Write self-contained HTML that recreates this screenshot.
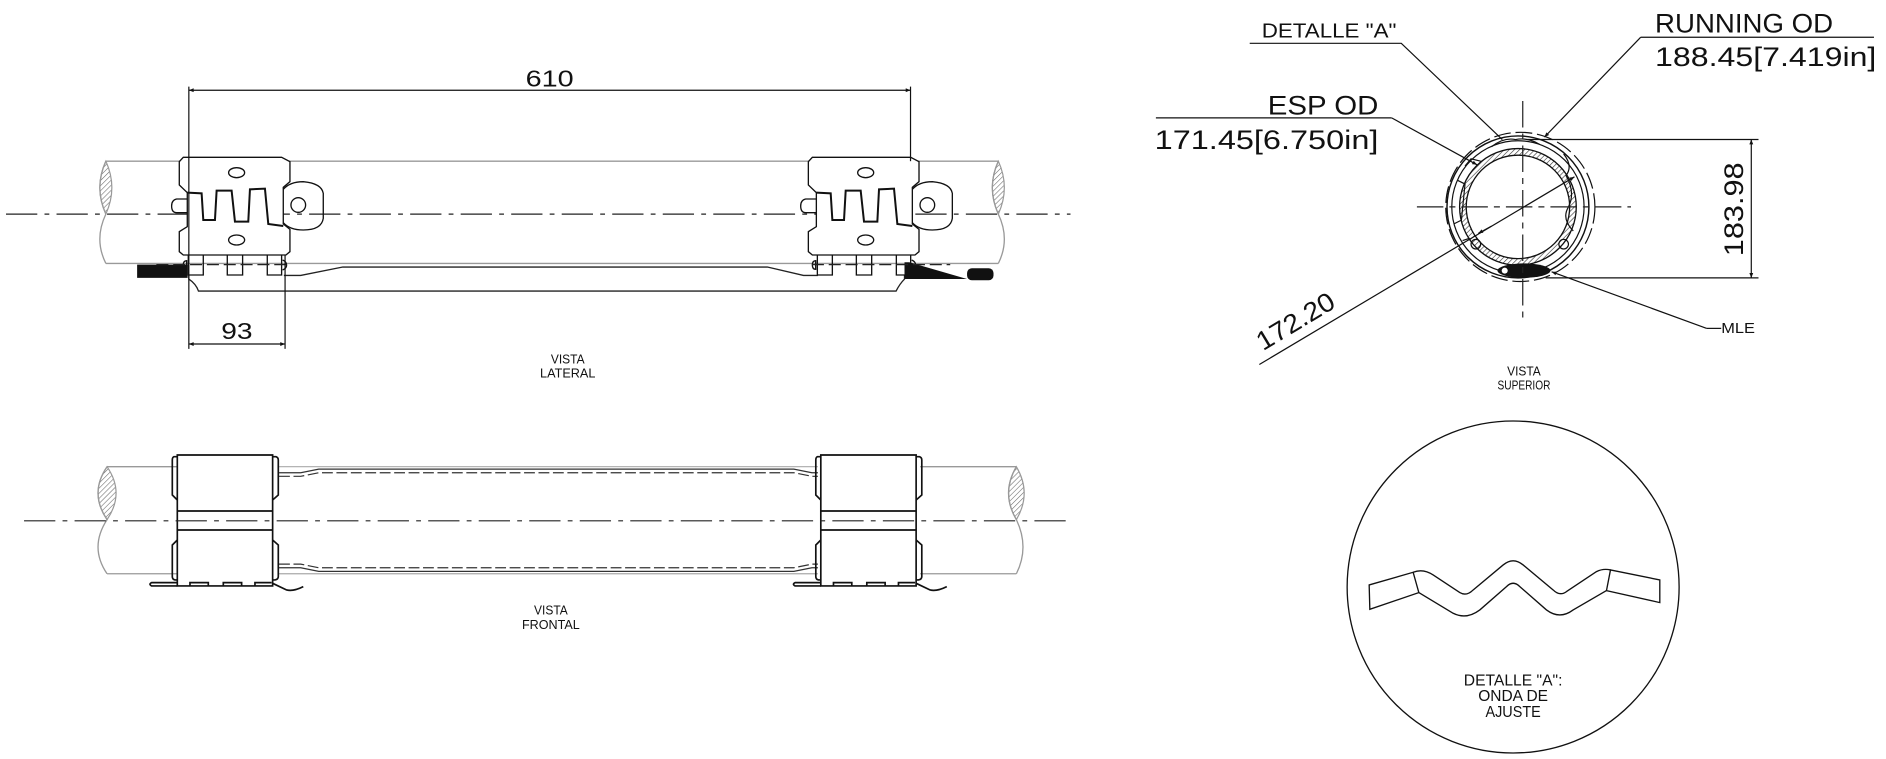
<!DOCTYPE html>
<html><head><meta charset="utf-8"><style>
html,body{margin:0;padding:0;background:#fff;}
svg{display:block;}
text{font-family:"Liberation Sans",sans-serif;fill:#111;}
</style></head><body>
<svg width="1886" height="759" viewBox="0 0 1568 631" preserveAspectRatio="none" xmlns="http://www.w3.org/2000/svg">
<defs>
<pattern id="hat" patternUnits="userSpaceOnUse" width="3" height="3" patternTransform="rotate(45)">
<line x1="0" y1="0" x2="0" y2="3" stroke="#666" stroke-width="0.9"/>
</pattern>
<pattern id="hat2" patternUnits="userSpaceOnUse" width="3" height="3" patternTransform="rotate(45)">
<line x1="0" y1="0" x2="0" y2="3" stroke="#333" stroke-width="1"/>
</pattern>
<marker id="ar" viewBox="0 0 10 10" refX="10" refY="5" markerWidth="10" markerHeight="4" orient="auto-start-reverse" markerUnits="userSpaceOnUse">
<path d="M0,1 L10,5 L0,9 Z" fill="#111"/>
</marker>
<g id="lclamp" fill="none" stroke="#111" stroke-width="4">
<path d="M40,22 L335,22 L360,35 L360,95 L340,112 L340,222 L360,238 L360,305 L348,315 L40,315 L28,305 L28,245 L52,230 L52,128 L28,105 L28,35 Z" fill="#fff"/>
<ellipse cx="200" cy="68" rx="24" ry="15"/>
<ellipse cx="200" cy="270" rx="24" ry="15"/>
<path d="M52,128 L95,130 L100,210 L135,210 L140,122 L185,122 L195,215 L235,215 L240,118 L285,116 L295,222 L340,228" stroke-width="6"/>
<path d="M52,147 L20,147 Q5,150 5,168 Q5,188 20,188 L52,188"/>
<path d="M340,118 Q360,95 400,95 Q455,100 460,130 L460,205 Q455,240 400,240 Q360,240 340,218"/>
<circle cx="385" cy="165" r="22"/>
<path d="M55,315 L55,375 L100,375 L100,315 M172,315 L172,375 L218,375 L218,315 M292,315 L292,375 L335,375 L335,315"/>
<path d="M40,345 Q40,332 50,332 L50,358 Q40,358 40,345" />
<path d="M338,330 Q350,335 350,345 Q350,355 338,360"/>
</g>
</defs>

<g fill="none" stroke="#999" stroke-width="1.1">
<line x1="88" y1="134" x2="830" y2="134"/>
<line x1="88" y1="219" x2="830" y2="219"/>
<path d="M88,134 Q78,156 88,178 Q78,199 88,219"/>
<path d="M830,134 Q820,156 830,178 Q840,199 830,219"/>
</g>
<path d="M88,134 Q78,156 88,178 Q98,156 88,134 Z" fill="url(#hat)" stroke="#999"/>
<path d="M830,134 Q820,156 830,178 Q840,156 830,134 Z" fill="url(#hat)" stroke="#999"/>
<line x1="5" y1="178" x2="890" y2="178" stroke="#222" stroke-width="1" stroke-dasharray="26,6,4,6"/>
<g fill="none" stroke="#222" stroke-width="1.1">
<path d="M157,229 L157,232 Q163,236 165,242 L745,242 Q748,236 752,232 L752,229"/>
<path d="M236,229 L250,229 L285,222 L638,222 L668,229 L680,229"/>
</g>
<use href="#lclamp" transform="translate(141.3,124.7) scale(0.2771)"/>
<use href="#lclamp" transform="translate(664.3,124.7) scale(0.2771)"/>
<rect x="114" y="220" width="42" height="11" fill="#111"/>
<path d="M752,218 L756,218 L804,232 L752,232 Z" fill="#111"/>
<rect x="804" y="223" width="22" height="10" rx="4" fill="#111"/>
<line x1="130" y1="220" x2="240" y2="220" stroke="#222" stroke-dasharray="10,4"/>
<line x1="675" y1="220" x2="790" y2="220" stroke="#222" stroke-dasharray="10,4"/>
<g stroke="#111" stroke-width="1">
<line x1="157" y1="75" x2="757" y2="75" marker-start="url(#ar)" marker-end="url(#ar)"/>
<line x1="157" y1="72" x2="157" y2="290"/>
<line x1="757" y1="72" x2="757" y2="134"/>
<line x1="157" y1="286" x2="237" y2="286" marker-start="url(#ar)" marker-end="url(#ar)"/>
<line x1="237" y1="212" x2="237" y2="290"/>
</g>
<text x="457" y="72" font-size="19" text-anchor="middle" textLength="40" lengthAdjust="spacingAndGlyphs">610</text>
<text x="197" y="282" font-size="19" text-anchor="middle" textLength="26" lengthAdjust="spacingAndGlyphs">93</text>
<text x="472" y="302" font-size="11" text-anchor="middle" textLength="28" lengthAdjust="spacingAndGlyphs">VISTA</text>
<text x="472" y="314" font-size="11" text-anchor="middle" textLength="46" lengthAdjust="spacingAndGlyphs">LATERAL</text>

<g fill="none" stroke="#999" stroke-width="1.1">
<line x1="89" y1="388" x2="150" y2="388"/>
<line x1="89" y1="477" x2="150" y2="477"/>
<line x1="765" y1="388" x2="845" y2="388"/>
<line x1="765" y1="477" x2="845" y2="477"/>
<path d="M89,388 Q74,410 89,432 Q74,455 89,477"/>
<path d="M845,388 Q832,410 845,432 Q856,455 845,477"/>
</g>
<path d="M89,388 Q74,410 89,432 Q104,410 89,388 Z" fill="url(#hat)" stroke="#999"/>
<path d="M845,388 Q832,410 845,432 Q858,410 845,388 Z" fill="url(#hat)" stroke="#999"/>
<g fill="none" stroke="#333" stroke-width="1">
<path d="M232,393 L250,393 L265,390 L660,390 L675,393 L680,393"/>
<path d="M232,396 L250,396 L265,393 L660,393 L675,396 L680,396" stroke-dasharray="9,3"/>
<path d="M232,472 L250,472 L265,475 L660,475 L675,472 L680,472"/>
<path d="M232,469 L250,469 L265,472 L660,472 L675,469 L680,469" stroke-dasharray="9,3"/>
<line x1="232" y1="388" x2="680" y2="388" stroke="#aaa"/>
<line x1="232" y1="477" x2="680" y2="477" stroke="#aaa"/>
</g>
<defs>
<g id="fclamp" fill="none" stroke="#111" stroke-width="5">
<path d="M52,15 L338,15 L338,408 L52,408 Z" fill="#fff"/>
<path d="M52,20 L42,20 Q37,22 37,30 L37,135 L52,150"/>
<path d="M52,270 L37,285 L37,380 Q37,388 45,390 L52,390"/>
<path d="M338,20 L348,20 Q355,22 355,30 L355,135 L338,150"/>
<path d="M338,270 L355,285 L355,380 Q355,388 345,390 L338,390"/>
<line x1="52" y1="183" x2="338" y2="183"/>
<line x1="52" y1="240" x2="338" y2="240"/>
<path d="M90,408 L90,398 L145,398 L145,408 M190,408 L190,398 L245,398 L245,408 M285,408 L285,398 L335,398"/>
<path d="M52,398 L-25,398 Q-35,403 -25,408 L52,408"/>
<path d="M338,400 L380,420 Q400,425 430,410"/>
</g>
</defs>
<use href="#fclamp" transform="translate(133.0,374.1) scale(0.2771)"/>
<use href="#fclamp" transform="translate(668.0,374.1) scale(0.2771)"/>
<line x1="20" y1="433" x2="890" y2="433" stroke="#222" stroke-width="1" stroke-dasharray="26,6,4,6"/>
<text x="458" y="511" font-size="11" text-anchor="middle" textLength="28" lengthAdjust="spacingAndGlyphs">VISTA</text>
<text x="458" y="523" font-size="11" text-anchor="middle" textLength="48" lengthAdjust="spacingAndGlyphs">FRONTAL</text>

<g fill="none" stroke="#111">
<circle cx="1264" cy="172" r="62" stroke-dasharray="14,4" stroke-width="1"/>
<circle cx="1262" cy="172" r="59" stroke-width="1.2"/>
<circle cx="1262" cy="172" r="55" stroke-width="1"/>
<path d="M1262,172 m-48.5,0 a48.5,48.5 0 1,0 97,0 a48.5,48.5 0 1,0 -97,0 Z m5.5,0 a43,43 0 1,1 86,0 a43,43 0 1,1 -86,0 Z" fill="url(#hat2)" fill-rule="evenodd" stroke-width="1.1"/>
<path d="M1218,138 l5,-6 l8,2 M1212,150 l6,3 l-3,30 l-6,3 M1216,200 l6,-2 M1300,128 q8,10 2,18 q8,14 2,26 q-6,10 4,20 M1240,122 q10,-8 20,-6 q10,-2 20,4" stroke-width="1"/>
<circle cx="1227" cy="203" r="4" stroke-width="1"/>
<circle cx="1300" cy="203" r="4" stroke-width="1"/>
</g>
<ellipse cx="1267" cy="225" rx="22" ry="6" fill="#111"/>
<circle cx="1251" cy="225" r="2.5" fill="#fff"/>
<line x1="1178" y1="172" x2="1356" y2="172" stroke="#222" stroke-dasharray="22,5,5,5"/>
<line x1="1266" y1="84" x2="1266" y2="264" stroke="#222" stroke-dasharray="22,5,5,5"/>
<g stroke="#111" stroke-width="1" fill="none">
<line x1="1270" y1="116" x2="1462" y2="116"/>
<line x1="1285" y1="231" x2="1462" y2="231"/>
<line x1="1456" y1="116" x2="1456" y2="231" marker-start="url(#ar)" marker-end="url(#ar)"/>
<polyline points="1039,36 1165,36 1249,116"/>
<line x1="1364" y1="31" x2="1558" y2="31"/>
<line x1="1364" y1="31" x2="1284" y2="114" marker-end="url(#ar)"/>
<line x1="961" y1="98" x2="1157" y2="98"/>
<line x1="1157" y1="98" x2="1228" y2="137" marker-end="url(#ar)"/>
<line x1="1047" y1="303" x2="1309" y2="147" marker-end="url(#ar)"/>
<line x1="1240" y1="188" x2="1229" y2="194" marker-end="url(#ar)"/>
<polyline points="1419,273 1431,273"/>
<line x1="1419" y1="273" x2="1290" y2="226" marker-end="url(#ar)"/>
</g>
<text x="1049" y="31" font-size="17" textLength="112" lengthAdjust="spacingAndGlyphs">DETALLE "A"</text>
<text x="1376" y="27" font-size="22" textLength="148" lengthAdjust="spacingAndGlyphs">RUNNING  OD</text>
<text x="1376" y="55" font-size="22" textLength="184" lengthAdjust="spacingAndGlyphs">188.45[7.419in]</text>
<text x="1054" y="95" font-size="22" textLength="92" lengthAdjust="spacingAndGlyphs">ESP  OD</text>
<text x="960" y="124" font-size="22" textLength="186" lengthAdjust="spacingAndGlyphs">171.45[6.750in]</text>
<text x="0" y="0" font-size="22" textLength="72" lengthAdjust="spacingAndGlyphs" transform="translate(1050,292) rotate(-31)">172.20</text>
<text x="0" y="0" font-size="22" textLength="78" lengthAdjust="spacingAndGlyphs" transform="translate(1449,213) rotate(-90)">183.98</text>
<text x="1431" y="277" font-size="12" textLength="28" lengthAdjust="spacingAndGlyphs">MLE</text>
<text x="1267" y="312" font-size="11" text-anchor="middle" textLength="28" lengthAdjust="spacingAndGlyphs">VISTA</text>
<text x="1267" y="324" font-size="11" text-anchor="middle" textLength="44" lengthAdjust="spacingAndGlyphs">SUPERIOR</text>

<circle cx="1258" cy="488" r="138" fill="none" stroke="#111" stroke-width="1.1"/>
<g transform="translate(1097.3,332.5) scale(0.2771)" fill="none" stroke="#111" stroke-width="4">
<polygon points="148,555 280,517 297,578 150,628"/>
<polygon points="872,510 1020,540 1020,608 860,572"/>
<path d="M280,517 Q310,505 340,525 L420,578 Q440,590 460,570 L550,495 Q580,470 610,495 L700,570 Q720,590 740,575 L830,515 Q850,505 872,510"/>
<path d="M297,578 L400,640 Q440,660 480,630 L560,560 Q580,540 600,560 L680,630 Q720,660 760,630 L860,572"/>
</g>
<text x="1258" y="570" font-size="13" text-anchor="middle" textLength="82" lengthAdjust="spacingAndGlyphs">DETALLE "A":</text>
<text x="1258" y="583" font-size="13" text-anchor="middle" textLength="58" lengthAdjust="spacingAndGlyphs">ONDA DE</text>
<text x="1258" y="596" font-size="13" text-anchor="middle" textLength="46" lengthAdjust="spacingAndGlyphs">AJUSTE</text>
</svg>
</body></html>
